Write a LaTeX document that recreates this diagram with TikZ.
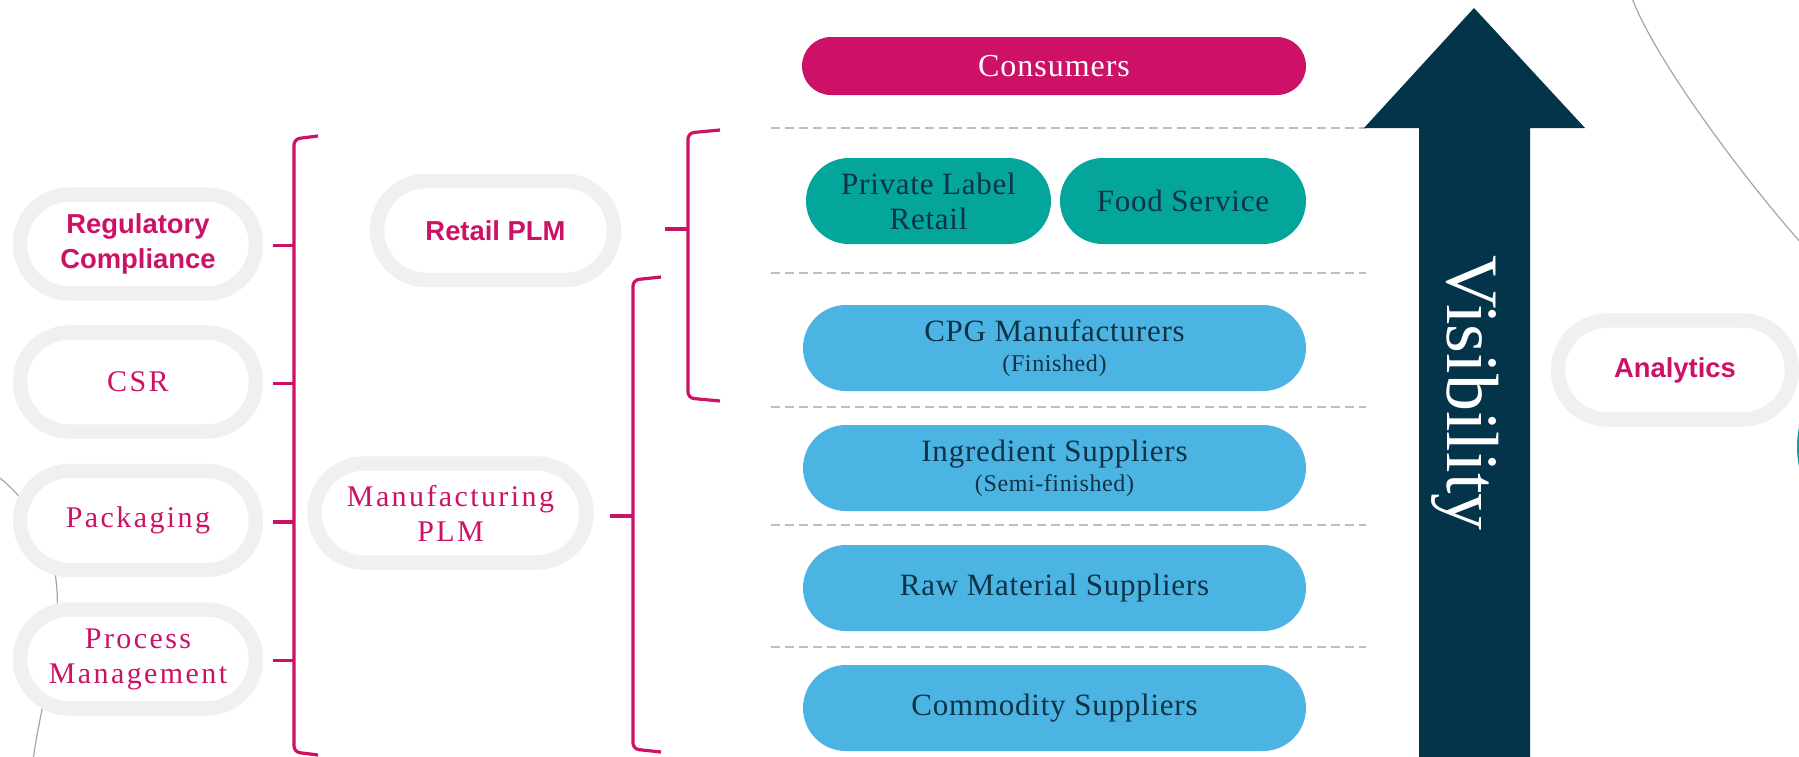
\documentclass[tikz,border=0pt]{standalone}
\usepackage{fontspec}
\setmainfont{Liberation Serif}
\newfontfamily\lsserif{Liberation Serif}[LetterSpace=8]
\newfontfamily\pillserif{Liberation Serif}[LetterSpace=2.5]
\newfontfamily\consserif{Liberation Serif}[LetterSpace=3]
\newfontfamily\lssans{Liberation Sans}
\usetikzlibrary{calc}
\definecolor{mag}{RGB}{204,17,102}
\definecolor{tealc}{RGB}{4,165,155}
\definecolor{bluec}{RGB}{76,180,227}
\definecolor{navy}{RGB}{3,52,73}
\definecolor{txtnavy}{RGB}{14,50,70}
\definecolor{ringgray}{RGB}{240,240,240}
\definecolor{dashgray}{RGB}{191,191,191}
\definecolor{curvegray}{RGB}{166,166,166}
\tikzset{
  ring/.style={draw=ringgray, line width=7.2pt, fill=white, rounded corners=24.75pt,
    minimum width=118pt, minimum height=49.5pt, inner sep=0pt, align=center, text=mag},
  serifring/.style={ring, font=\lsserif\fontsize{15}{17.5}\selectfont},
  sansring/.style={ring, font=\lssans\bfseries\fontsize{13.7}{17.5}\selectfont},
  pill/.style={fill=#1, rounded corners=21.5pt, minimum height=43pt, inner sep=0pt,
    align=center, text=txtnavy, font=\pillserif\fontsize{15.5}{17.5}\selectfont},
  sub/.style={font=\pillserif\fontsize{15.5}{15}\selectfont},
  brk/.style={draw=mag, line width=1.6pt, rounded corners=3pt},
  sepline/.style={draw=dashgray, line width=1pt, dash pattern=on 4.5pt off 2.5pt},
  bgcurve/.style={draw=curvegray, line width=0.6pt}
}
\begin{document}
\begin{tikzpicture}[x=0.5pt,y=-0.5pt]
\useasboundingbox (0,0) rectangle (1799,756);
\clip (0,0) rectangle (1799,756);
\fill[white] (0,0) rectangle (1799,756);

% background curves
\draw[bgcurve] (0,478) .. controls (45,515) and (60,565) .. (57,615)
  .. controls (55,660) and (40,710) .. (33,760);
\draw[bgcurve] (1632,-2) .. controls (1655,60) and (1745,180) .. (1802,244);
\fill[tealc] (1897,447) circle (50pt);

% separators
\foreach \yy in {128,273,407,525,647}
  \draw[sepline] (771,\yy) -- (1366,\yy);

% visibility arrow
\fill[navy] (1474,8) -- (1585,128) -- (1530,128) -- (1530,760) -- (1419,760)
  -- (1419,128) -- (1364,128) -- cycle;
\node[rotate=-90, anchor=base west, inner sep=0pt, text=white,
  font=\fontsize{37}{40}\selectfont] (vis) at (1447,255) {Visibility};

% left column
\node[sansring] (reg) at (138,244) {Regulatory\\Compliance};
\node[serifring] (csr) at (138,382) {CSR};
\node[serifring] (pack) at (138,520.5) {Packaging};
\node[serifring] (proc) at (138,659) {Process\\Management};

% middle column
\node[sansring, minimum width=118.5pt] (retail) at (495.5,230.5) {Retail PLM};
\node[serifring, minimum width=136pt] (mfg) at (450.5,513) {Manufacturing\\PLM};

% right analytics
\node[sansring, minimum width=117pt] (ana) at (1675,370) {Analytics};

% supply chain pills
\node[pill=mag, minimum width=252pt, minimum height=29pt, rounded corners=14.5pt,
  text=white, font=\consserif\fontsize{16}{18}\selectfont] (cons) at (1054,66) {Consumers};
\node[pill=tealc, minimum width=122.5pt] (pl) at (928.5,201) {Private Label\\Retail};
\node[pill=tealc, minimum width=123pt] (fs) at (1183,201) {Food Service};
\node[pill=bluec, minimum width=251.5pt, sub] (cpg) at (1054.5,348)
  {CPG Manufacturers\\{\fontsize{12}{15}\selectfont (Finished)}};
\node[pill=bluec, minimum width=251.5pt, sub] (ing) at (1054.5,468)
  {Ingredient Suppliers\\{\fontsize{12}{15}\selectfont (Semi-finished)}};
\node[pill=bluec, minimum width=251.5pt] (raw) at (1054.5,588) {Raw Material Suppliers};
\node[pill=bluec, minimum width=251.5pt] (com) at (1054.5,708) {Commodity Suppliers};

% brackets
\coordinate (b1) at (294,0);
\coordinate (b2) at (688,0);
\coordinate (b3) at (633,0);
\draw[brk] (318,136) -- (294,139) -- (294,752) -- (318,755);
\draw[brk] (720,130) -- (688,133) -- (688,398) -- (720,401);
\draw[brk] (661,277) -- (633,280) -- (633,749) -- (661,752);
\foreach \n in {reg,csr,pack,proc}
  \draw[brk] ($(\n.east)+(10,1.5)$) -- ($(\n.east -| b1)+(0,1.5)$);
\draw[brk] ($(retail.east)+(44,-1.5)$) -- ($(retail.east -| b2)+(0,-1.5)$);
\draw[brk] ($(mfg.east)+(16,3)$) -- ($(mfg.east -| b3)+(0,3)$);
\end{tikzpicture}
\end{document}
